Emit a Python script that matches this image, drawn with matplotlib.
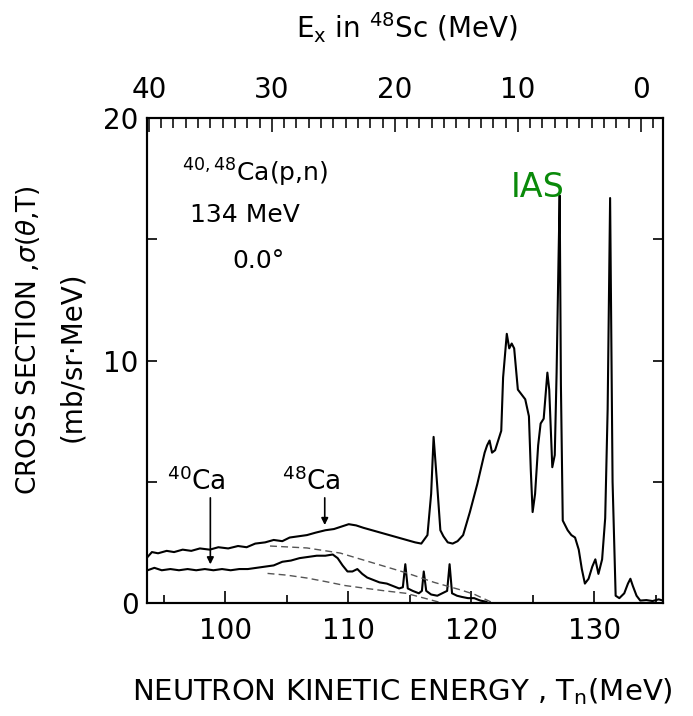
import matplotlib.pyplot as plt
from matplotlib.ticker import MultipleLocator

# 48Ca(p,n) spectrum (upper trace)
tn_48 = [93.7, 94.05, 94.55, 95.25, 95.85, 96.55, 97.25, 97.95, 98.75, 99.45,
         100.25, 101.05, 101.75, 102.45, 103.25, 103.95, 104.65, 105.25, 105.95, 106.65,
         107.35, 108.15, 108.85, 109.45, 110.05, 110.65, 111.25, 111.95, 112.65, 113.35,
         114.05, 114.75, 115.45, 115.95, 116.45, 116.75, 116.95, 117.25, 117.5, 117.75,
         118.1, 118.5, 118.9, 119.35, 119.9, 120.5, 121.1, 121.3, 121.5, 121.7,
         121.95, 122.2, 122.45, 122.6, 122.9, 123.1, 123.3, 123.5, 123.8, 124.1,
         124.4, 124.7, 124.85, 125.0, 125.2, 125.45, 125.65, 125.9, 126.2, 126.35,
         126.6, 126.8, 126.95, 127.1, 127.2, 127.3, 127.45, 127.85, 128.15, 128.45,
         128.75, 129.0, 129.25, 129.55, 129.85, 130.1, 130.35, 130.65, 130.9, 131.1,
         131.3, 131.5, 131.75, 132.05, 132.45, 132.75, 132.95, 133.15, 133.45, 133.75,
         134.25, 134.75, 135.25, 135.6]
xs_48 = [1.9, 2.1, 2.05, 2.15, 2.1, 2.2, 2.15, 2.25, 2.2, 2.3,
         2.25, 2.35, 2.3, 2.45, 2.5, 2.6, 2.55, 2.7, 2.75, 2.8,
         2.9, 3.0, 3.05, 3.15, 3.25, 3.2, 3.1, 3.0, 2.9, 2.8,
         2.7, 2.6, 2.5, 2.45, 2.8, 4.5, 6.85, 4.8, 3.0, 2.75,
         2.5, 2.45, 2.55, 2.8, 3.75, 4.9, 6.2, 6.5, 6.7, 6.2,
         6.3, 6.7, 7.1, 9.3, 11.1, 10.5, 10.7, 10.5, 8.8, 8.6,
         8.4, 7.7, 5.5, 3.75, 4.5, 6.5, 7.4, 7.6, 9.5, 8.8,
         5.6, 6.1, 9.5, 14.0, 16.8, 9.0, 3.4, 3.0, 2.8, 2.7,
         2.2, 1.4, 0.8, 1.0, 1.5, 1.8, 1.2, 1.8, 3.5, 8.0,
         16.7, 5.0, 0.3, 0.2, 0.4, 0.8, 1.0, 0.7, 0.3, 0.1,
         0.12, 0.08, 0.15, 0.1]

# 40Ca(p,n) spectrum (lower trace)
tn_40 = [93.7, 94.25, 94.85, 95.55, 96.25, 96.95, 97.65, 98.35, 99.05, 99.75,
         100.45, 101.15, 101.85, 102.55, 103.25, 103.95, 104.65, 105.35, 106.05, 106.75,
         107.45, 108.15, 108.75, 109.15, 109.55, 109.95, 110.35, 110.75, 111.15, 111.55,
         112.05, 112.55, 113.15, 113.65, 114.15, 114.45, 114.65, 114.85, 115.25, 115.75,
         116.0, 116.15, 116.35, 116.75, 117.25, 117.65, 118.05, 118.25, 118.45, 118.85,
         119.25, 119.75, 120.25, 120.75, 121.25]
xs_40 = [1.35, 1.45, 1.35, 1.4, 1.35, 1.4, 1.35, 1.4, 1.35, 1.4,
         1.35, 1.4, 1.4, 1.45, 1.5, 1.55, 1.7, 1.75, 1.85, 1.9,
         1.95, 1.95, 2.0, 1.85, 1.55, 1.3, 1.3, 1.4, 1.2, 1.05,
         0.95, 0.85, 0.8, 0.7, 0.6, 0.65, 1.6, 0.6, 0.5, 0.4,
         0.5, 1.3, 0.5, 0.35, 0.3, 0.4, 0.5, 1.6, 0.4, 0.3,
         0.25, 0.2, 0.2, 0.1, 0.05]

# dashed backgrounds
tn_bg48 = [103.65, 106.65, 109.35, 112.05, 114.75, 117.0, 119.15, 120.3, 121.8]
bg48 = [2.35, 2.27, 2.06, 1.65, 1.24, 0.85, 0.54, 0.35, 0.0]
tn_bg40 = [103.45, 105.0, 106.65, 108.2, 109.75, 111.5, 113.0, 114.7, 116.2, 117.5]
bg40 = [1.22, 1.15, 1.03, 0.88, 0.72, 0.6, 0.5, 0.4, 0.2, 0.02]

ex_ticks = [0, 10, 20, 30, 40]
T0 = 133.8  # Tn at Ex = 0
tn_lim = (93.65, 135.6)

fig = plt.figure(figsize=(6.93, 7.16), dpi=100)
ax = fig.add_axes([147/693, 1-603/716, 516/693, 485/716])

ax.plot(tn_48, xs_48, color='k', lw=1.5)
ax.plot(tn_40, xs_40, color='k', lw=1.5)
ax.plot(tn_bg48, bg48, color='#555555', lw=1.0, ls=(0, (5, 3)))
ax.plot(tn_bg40, bg40, color='#555555', lw=1.0, ls=(0, (5, 3)))

ax.set_xlim(*tn_lim)
ax.set_ylim(0, 20)
ax.set_xticks([100, 110, 120, 130])
ax.set_xticks([95, 105, 115, 125, 135], minor=True)
ax.set_yticks([0, 10, 20])
ax.set_yticks([5, 15], minor=True)
ax.tick_params(which='both', direction='in', top=False, right=True, labelsize=20, width=1.2)
ax.tick_params(axis='x', which='major', length=9, pad=10)
ax.tick_params(axis='x', which='minor', length=6)
ax.tick_params(axis='y', which='both', length=7, pad=6)
for s in ax.spines.values():
    s.set_linewidth(1.5)

# excitation energy scale on top
top = ax.twiny()
top.set_xlim(T0 - tn_lim[0], T0 - tn_lim[1])
top.set_xticks(ex_ticks)
top.xaxis.set_minor_locator(MultipleLocator(1))
top.tick_params(which='both', direction='in', labelsize=20, width=1.3, color='#222222')
top.tick_params(which='major', length=10, pad=10)
top.tick_params(which='minor', length=7)
for s in top.spines.values():
    s.set_linewidth(1.5)

ax.text(96.5, 17.36, r'$^{40,48}$Ca(p,n)', fontsize=18)
ax.text(97.15, 15.7, '134 MeV', fontsize=18)
ax.text(100.57, 13.8, '0.0°', fontsize=18)
ax.text(123.25, 16.75, 'IAS', fontsize=24, color='#0a8a0a')

ax.text(95.3, 4.66, r'$^{40}$Ca', fontsize=19)
ax.text(104.6, 4.66, r'$^{48}$Ca', fontsize=19)
ax.annotate('', xy=(98.8, 1.48), xytext=(98.8, 4.45),
            arrowprops=dict(arrowstyle='-|>', color='k', lw=1.2, mutation_scale=10))
ax.annotate('', xy=(108.1, 3.1), xytext=(108.1, 4.45),
            arrowprops=dict(arrowstyle='-|>', color='k', lw=1.2, mutation_scale=10))

fig.text(28/693, 1-340/716, r'CROSS SECTION ,$\sigma(\theta$,T)', rotation=90,
         ha='center', va='center', fontsize=19)
fig.text(72/693, 1-357/716, '(mb/sr·MeV)', rotation=90, ha='center', va='center', fontsize=20)
fig.text(402/693, 1-692/716, r'NEUTRON KINETIC ENERGY , T$_\mathrm{n}$(MeV)',
         ha='center', va='center', fontsize=21)
fig.text(407/693, 1-28/716, r'E$_\mathrm{x}$ in $^{48}$Sc (MeV)',
         ha='center', va='center', fontsize=20)

fig.savefig('out.png', dpi=100)
